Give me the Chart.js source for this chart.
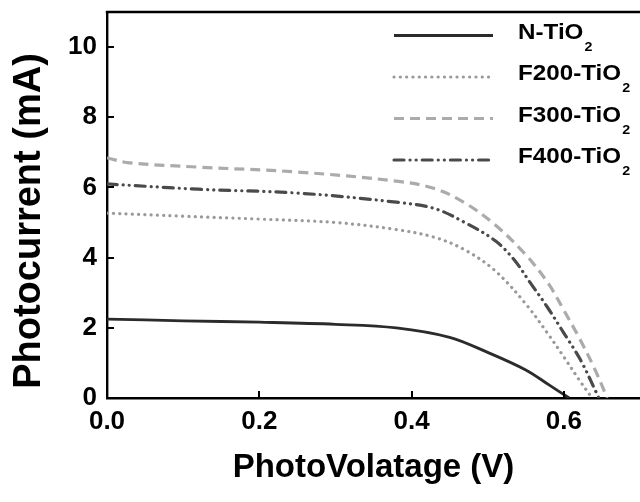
<!DOCTYPE html>
<html>
<head>
<meta charset="utf-8">
<script src="https://cdn.jsdelivr.net/npm/chart.js@4/dist/chart.umd.min.js"></script>
<style>
html,body{margin:0;padding:0;background:#fff;}
#wrap{width:640px;height:502px;position:relative;}
</style>
</head>
<body>
<div id="wrap"><canvas id="c" width="640" height="502"></canvas></div>
<script>
// ---- data ----
const seriesLabels = ['N-TiO2', 'F200-TiO2', 'F300-TiO2', 'F400-TiO2'];

const vN   = [0, 0.1, 0.2, 0.3, 0.38, 0.45, 0.5, 0.55, 0.58, 0.607];
const iN   = [2.25, 2.2, 2.16, 2.1, 2.0, 1.73, 1.3, 0.8, 0.38, 0];

const vF200 = [0, 0.1, 0.2, 0.3, 0.38, 0.43, 0.47, 0.51, 0.55, 0.58, 0.6, 0.62, 0.637];
const iF200 = [5.27, 5.18, 5.1, 5.0, 4.8, 4.58, 4.22, 3.62, 2.68, 1.8, 1.17, 0.52, 0];

const vF300 = [0, 0.03, 0.12, 0.25, 0.38, 0.43, 0.47, 0.51, 0.55, 0.58, 0.6, 0.62, 0.64, 0.657];
const iF300 = [6.84, 6.7, 6.58, 6.44, 6.18, 5.97, 5.56, 4.93, 4.08, 3.25, 2.5, 1.72, 0.85, 0];

const vF400 = [0, 0.12, 0.25, 0.38, 0.43, 0.47, 0.51, 0.535, 0.556, 0.578, 0.6, 0.622, 0.646];
const iF400 = [6.1, 5.95, 5.84, 5.58, 5.4, 5.0, 4.48, 3.93, 3.28, 2.6, 1.85, 1.08, 0];

const xTicks = [0, 0.2, 0.4, 0.6];
const yTicks = [0, 2, 4, 6, 8, 10];
const xTitle = 'PhotoVolatage (V)';
const yTitle = 'Photocurrent (mA)';

const toPts = (v, i) => v.map((x, k) => ({x: x, y: i[k]}));

const FONT = "'Liberation Sans', Arial, sans-serif";

const styles = [
  {color: '#2b2b2b', dash: [], width: 2.8, cap: 'butt'},
  {color: '#9a9a9a', dash: [0.1, 6.2], width: 3.2, cap: 'round'},
  {color: '#ababab', dash: [10, 6], width: 3.2, cap: 'butt'},
  {color: '#4a4a4a', dash: [10, 6, 0.1, 6, 0.1, 6], width: 3.2, cap: 'round'}
];

const datasets = [
  toPts(vN, iN), toPts(vF200, iF200), toPts(vF300, iF300), toPts(vF400, iF400)
].map((d, k) => ({
  label: seriesLabels[k],
  data: d,
  borderColor: styles[k].color,
  borderWidth: styles[k].width,
  borderDash: styles[k].dash,
  borderCapStyle: styles[k].cap,
  pointRadius: 0,
  fill: false,
  tension: 0.35
}));

const framePlugin = {
  id: 'frame',
  afterDraw(chart) {
    const {ctx, chartArea: a, scales: {x, y}} = chart;
    ctx.save();
    ctx.strokeStyle = '#000';
    ctx.lineWidth = 2.4;
    ctx.beginPath();
    ctx.moveTo(a.left - 1.2, a.top);
    ctx.lineTo(a.right + 2, a.top);
    ctx.stroke();
    // inward ticks
    ctx.lineWidth = 2;
    ctx.beginPath();
    xTicks.forEach(v => {
      const px = Math.round(x.getPixelForValue(v));
      if (v === 0) return;
      ctx.moveTo(px, a.bottom);
      ctx.lineTo(px, a.bottom - 7);
    });
    yTicks.forEach(v => {
      const py = Math.round(y.getPixelForValue(v));
      if (v === 0) return;
      ctx.moveTo(a.left, py);
      ctx.lineTo(a.left + 7, py);
    });
    ctx.stroke();
    // y axis title
    ctx.save();
    ctx.translate(30, 221);
    ctx.rotate(-Math.PI / 2);
    ctx.fillStyle = '#000';
    ctx.textAlign = 'center';
    ctx.textBaseline = 'middle';
    ctx.font = 'bold 38px ' + FONT;
    ctx.fillText(yTitle, 0, 0);
    ctx.restore();
    ctx.restore();
  }
};

const legendPlugin = {
  id: 'customLegend',
  afterDraw(chart) {
    const {ctx} = chart;
    ctx.save();
    chart.data.datasets.forEach((ds, k) => {
      const base = 38.5 + k * 41.5;
      const ly = base - 3;
      ctx.strokeStyle = ds.borderColor;
      ctx.lineWidth = ds.borderWidth;
      ctx.setLineDash(ds.borderDash);
      ctx.lineCap = ds.borderCapStyle;
      ctx.beginPath();
      ctx.moveTo(394, ly);
      ctx.lineTo(493, ly);
      ctx.stroke();
      ctx.setLineDash([]);
      ctx.lineCap = 'butt';
      const txt = ds.label;
      const main = txt.slice(0, -1), sub = txt.slice(-1);
      ctx.save();
      ctx.translate(518, base);
      ctx.scale(1.1, 1);
      ctx.fillStyle = '#000';
      ctx.textBaseline = 'alphabetic';
      ctx.textAlign = 'left';
      ctx.font = 'bold 22px ' + FONT;
      ctx.fillText(main, 0, 0);
      const w = ctx.measureText(main).width;
      ctx.font = 'bold 13px ' + FONT;
      ctx.fillText(sub, w + 1, 12);
      ctx.restore();
    });
    ctx.restore();
  }
};

new Chart(document.getElementById('c'), {
  type: 'line',
  data: {datasets: datasets},
  plugins: [framePlugin, legendPlugin],
  options: {
    responsive: false,
    animation: false,
    devicePixelRatio: 1,
    layout: {padding: {top: 12, right: 0, left: 0, bottom: 0}},
    plugins: {legend: {display: false}, tooltip: {enabled: false}},
    scales: {
      x: {
        type: 'linear',
        min: 0, max: 0.7,
        afterBuildTicks(s) { s.ticks = xTicks.map(v => ({value: v})); },
        afterFit(s) { s.height = 104; s.paddingLeft = 0; s.paddingRight = 0; },
        grid: {display: true, drawOnChartArea: false, drawTicks: false},
        border: {display: true, color: '#000', width: 2.4},
        ticks: {
          padding: 8,
          color: '#000',
          font: {family: FONT, size: 26, weight: 'bold'},
          callback: v => Number(v).toFixed(1)
        },
        title: {
          display: true,
          text: xTitle,
          color: '#000',
          font: {family: FONT, size: 33, weight: 'bold'},
          padding: {top: 0, bottom: 14}
        }
      },
      y: {
        type: 'linear',
        min: 0, max: 11,
        afterBuildTicks(s) { s.ticks = yTicks.map(v => ({value: v})); },
        afterFit(s) { s.width = 107; s.paddingTop = 0; s.paddingBottom = 0; },
        grid: {display: true, drawOnChartArea: false, drawTicks: false},
        border: {display: true, color: '#000', width: 2.4},
        ticks: {
          padding: 10,
          color: '#000',
          font: {family: FONT, size: 26, weight: 'bold'},
          callback: v => String(v)
        },
        title: {display: false}
      }
    }
  }
});
</script>
</body>
</html>
